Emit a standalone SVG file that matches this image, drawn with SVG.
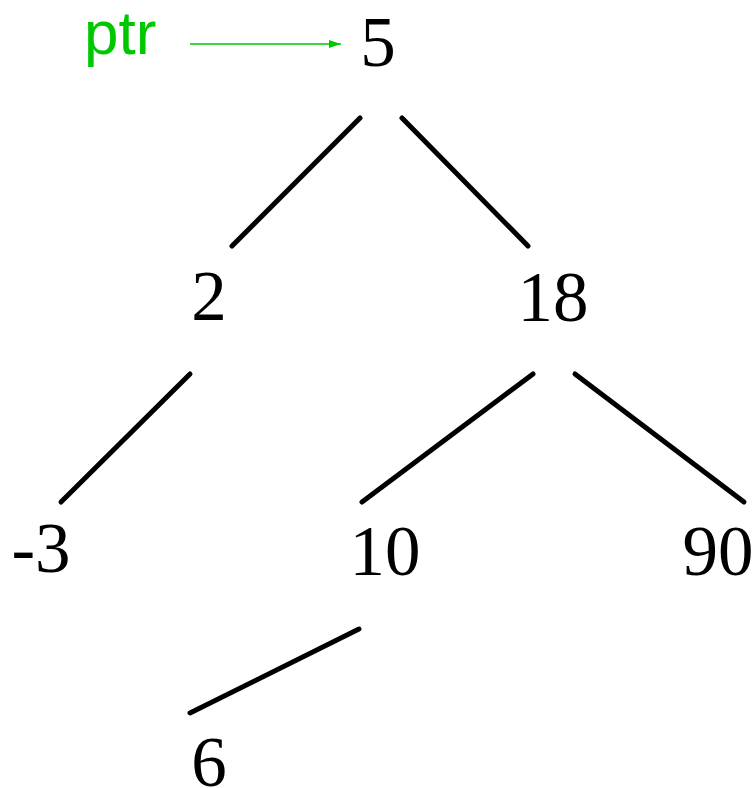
<svg xmlns="http://www.w3.org/2000/svg" width="756" height="788" viewBox="0 0 756 788">
<defs>
<style>
.n{font-family:"Liberation Serif","Times New Roman",serif;font-size:71px;fill:#000;text-anchor:middle}
.e{stroke:#000;stroke-width:5;stroke-linecap:round;fill:none}
</style>
<marker id="ah" viewBox="0 0 10 10" refX="10" refY="5" markerWidth="12" markerHeight="8" markerUnits="userSpaceOnUse" orient="auto" preserveAspectRatio="none">
<path d="M0,0 L10,5 L0,10 z" fill="#00c800"/>
</marker>
</defs>
<rect width="756" height="788" fill="#fff"/>
<g id="connectors">
<line class="e" x1="360" y1="118" x2="232" y2="246"/>
<line class="e" x1="402" y1="118" x2="528" y2="246"/>
<line class="e" x1="190" y1="374" x2="61" y2="502"/>
<line class="e" x1="533" y1="374" x2="362" y2="502"/>
<line class="e" x1="575" y1="374" x2="744" y2="502"/>
<line class="e" x1="359" y1="629" x2="190" y2="713"/>
<line x1="190" y1="44" x2="341" y2="44" stroke="#00c800" stroke-width="1.5" marker-end="url(#ah)"/>
</g>
<g id="ptr"><text x="84" y="54" font-family="Liberation Sans,Arial,sans-serif" font-size="62" fill="#00c800">ptr</text></g>
<g id="n5"><text class="n" x="378" y="66">5</text></g>
<g id="n2"><text class="n" x="209" y="320">2</text></g>
<g id="n18"><text class="n" x="553" y="321">18</text></g>
<g id="nm3"><text class="n" x="41" y="572">-3</text></g>
<g id="n10"><text class="n" x="385" y="575">10</text></g>
<g id="n90"><text class="n" x="718" y="575">90</text></g>
<g id="n6"><text class="n" x="209" y="786">6</text></g>
</svg>
